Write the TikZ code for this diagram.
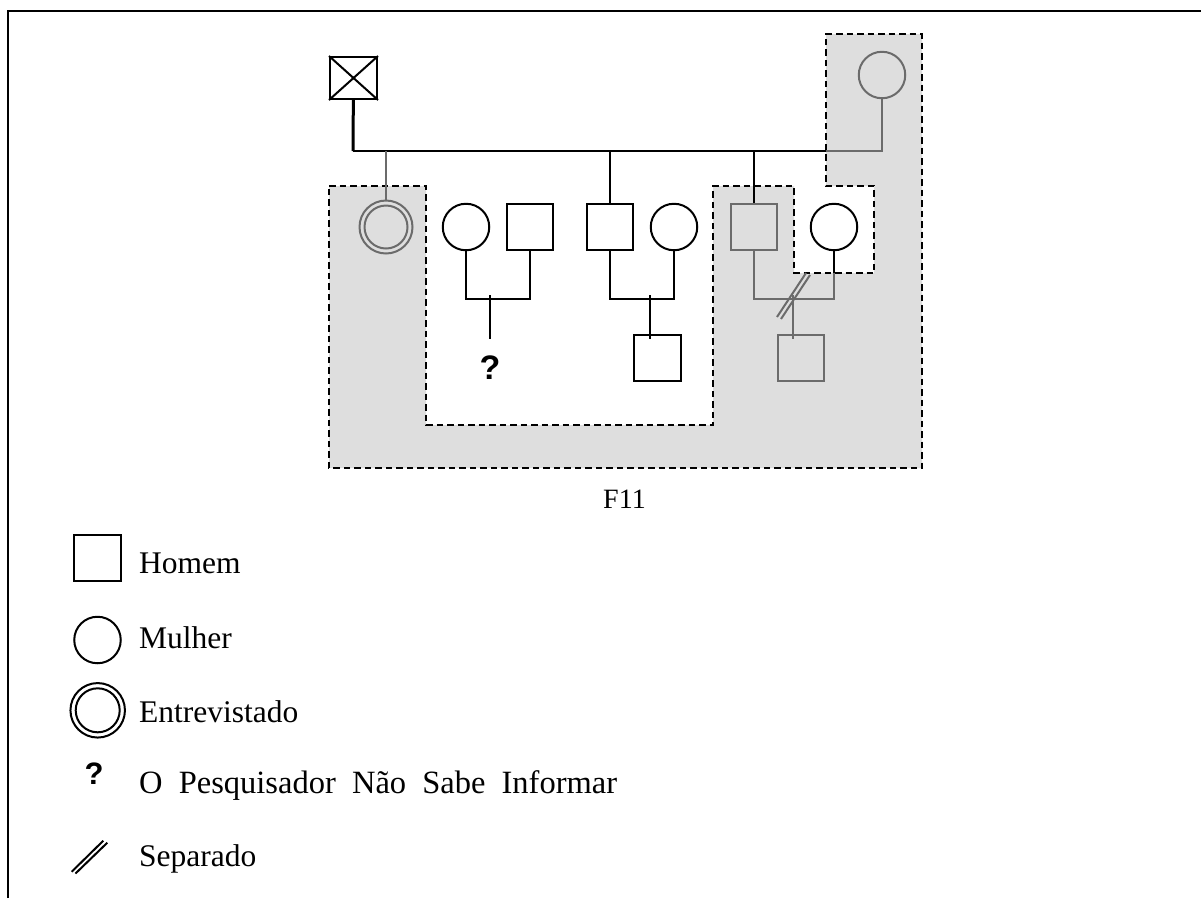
\documentclass[tikz,border=0pt]{standalone}
\usepackage{fontspec}
\setmainfont{Liberation Serif}
\newfontfamily\qfont{Liberation Sans}
\definecolor{lgray}{HTML}{DEDEDE}
\definecolor{dgray}{HTML}{6B6B6B}
\begin{document}
\begin{tikzpicture}[x=1pt,y=-1pt,
  blk/.style={line width=2pt,black},
  gry/.style={line width=2pt,dgray},
  sq/.style={draw,rectangle,line width=2pt,minimum size=46.5pt,inner sep=0pt},
  ci/.style={draw,circle,line width=2pt,minimum size=46.5pt,inner sep=0pt},
  region/.style={draw=black,fill=lgray,line width=2pt,dash pattern=on 6.5pt off 4pt},
  leg/.style={anchor=base west,inner sep=0pt,font=\fontsize{31.5}{36}\selectfont},
  qm/.style={inner sep=0pt,font=\qfont\bfseries\fontsize{34}{38}\selectfont}]
\useasboundingbox (0,0) rectangle (1201,898);
% frame
\draw[line width=2.5pt] (8,898) -- (8,11) -- (1201,11);
% shaded region
\draw[region] (329,186) -- (426,186) -- (426,425) -- (713,425) -- (713,186)
  -- (794,186) -- (794,273) -- (874,273) -- (874,186) -- (826,186) -- (826,34)
  -- (922,34) -- (922,468) -- (329,468) -- cycle;
% nodes
\node[sq,minimum width=47pt,minimum height=42pt,line width=2pt] (gf) at (353.5,78) {};
\draw[blk] (gf.north west) -- (gf.south east) (gf.north east) -- (gf.south west);
\node[ci,draw=dgray] (gm) at (882,75) {};
\node[circle,draw=dgray,line width=2pt,minimum size=53pt,inner sep=0pt] (ego) at (386,227) {};
\draw[gry] (ego.center) circle (21.5);
\node[ci] (w1) at (466,227) {};
\node[sq] (h1) at (530,227) {};
\node[sq] (s2) at (610,227) {};
\node[ci] (w2) at (674,227) {};
\node[sq,draw=dgray] (s3) at (754,227) {};
\node[ci] (w3) at (834,227) {};
\node[sq] (gs2) at (657.5,358) {};
\node[sq,draw=dgray] (gs3) at (801,358) {};
\node[qm] (q) at (490,368) {?};
% sibship line
\coordinate (sibL) at (353,151);
\coordinate (bnd) at (826,151);
\coordinate (sibR) at (882,151);
\draw[line width=3pt] (gf) -- (sibL);
\draw[blk] (sibL) -- (bnd);
\draw[gry] (bnd) -- (sibR) -- (gm);
\draw[gry] (ego) -- (ego |- sibL);
\draw[blk] (s2) -- (s2 |- sibL);
\draw[blk] (s3) -- (s3 |- sibL);
% couple 1
\coordinate (c1) at (490,299);
\coordinate (e1) at (490,339);
\draw[blk] (w1) |- (c1) -| (h1);
\draw[blk] (490,295) -- (e1);
% couple 2
\coordinate (c2) at (650,299);
\coordinate (e2) at (650,339);
\draw[blk] (s2) |- (c2) -| (w2);
\draw[blk] (650,295) -- (e2);
% couple 3
\coordinate (c3) at (793,299);
\coordinate (e3) at (793,339);
\coordinate (b3) at (834,273);
\draw[blk] (w3) -- (b3);
\draw[gry] (b3) |- (c3) -| (s3);
\draw[gry] (793,295) -- (e3);
\draw[gry] (777,317) -- (806,273);
\draw[gry] (781,319) -- (810,275);
% label
\node[anchor=base,inner sep=0pt,font=\fontsize{28}{32}\selectfont] (f11) at (624.5,508) {F11};
% legend
\node[sq] (lsq) at (97.5,558) {};
\node[leg] (t1) at (139,573) {Homem};
\node[ci] (lci) at (97.5,640) {};
\node[leg] (t2) at (139,648.5) {Mulher};
\node[circle,draw,line width=2pt,minimum size=54.5pt,inner sep=0pt] (ldc) at (97.7,710.3) {};
\draw[blk] (ldc.center) circle (22);
\node[leg] (t3) at (139,722.5) {Entrevistado};
\node[qm,font=\qfont\bfseries\fontsize{31}{35}\selectfont] (lq) at (94,774) {?};
\node[leg,font=\fontsize{32.5}{36}\selectfont] (t4) at (139,793.5) {\makebox[478pt][s]{O Pesquisador Não Sabe Informar}};
\draw[blk] (71.7,871.7) -- (103.3,840.7);
\draw[blk] (75.5,873.5) -- (107.3,842.7);
\node[leg] (t5) at (139,866.7) {Separado};
\end{tikzpicture}
\end{document}
